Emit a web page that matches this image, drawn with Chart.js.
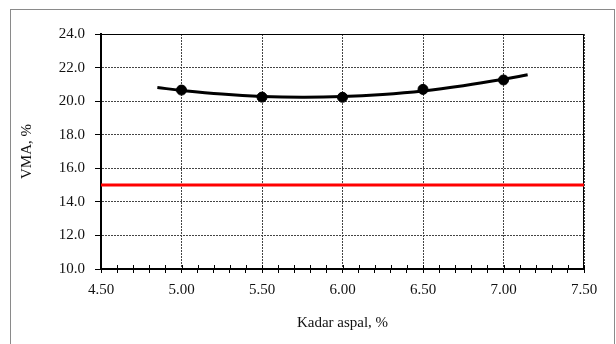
<!DOCTYPE html>
<html>
<head>
<meta charset="utf-8">
<script src="https://cdn.jsdelivr.net/npm/chart.js@4.4.0/dist/chart.umd.min.js"></script>
<style>
  html, body { margin: 0; padding: 0; background: #fff; }
  #wrap { width: 616px; height: 344px; }
</style>
</head>
<body>
<div id="wrap"><canvas id="myChart"></canvas></div>
<script>
// measured points
var kadarAspal = [5.00, 5.50, 6.00, 6.50, 7.00];
var vma = [20.66, 20.24, 20.23, 20.70, 21.26];
// trend curve
var trendX = [4.85, 5.00, 5.25, 5.50, 5.75, 6.00, 6.25, 6.50, 6.75, 7.00, 7.15];
var trendY = [20.81, 20.64, 20.42, 20.28, 20.23, 20.27, 20.40, 20.61, 20.92, 21.30, 21.57];
// VMA minimum limit
var batasX = [4.50, 7.50];
var batasY = [15.0, 15.0];

function pts(xs, ys) {
    return xs.map(function (x, i) { return { x: x, y: ys[i] }; });
}
function isMajor(v) {
    return Math.abs(v * 2 - Math.round(v * 2)) < 1e-6;
}

var serif = 'Liberation Serif';

var frame = {
    id: 'frame',
    beforeDraw: function (chart) {
        var c = chart.ctx;
        c.save();
        c.fillStyle = '#fff';
        c.fillRect(0, 0, chart.width, chart.height);
        c.strokeStyle = '#8a8a8a';
        c.lineWidth = 1;
        c.strokeRect(10.5, 9.5, 604, 345);
        c.restore();
    },
    beforeDatasetsDraw: function (chart) {
        var c = chart.ctx, a = chart.chartArea, sx = chart.scales.x;
        c.save();
        c.strokeStyle = '#000';
        c.lineWidth = 1;
        c.beginPath();
        c.moveTo(a.left, a.top + 0.5);
        c.lineTo(a.right - 0.5, a.top + 0.5);
        c.lineTo(a.right - 0.5, a.bottom);
        c.stroke();
        // upper half of the x tick marks
        c.beginPath();
        sx.ticks.forEach(function (t) {
            var px = Math.round(sx.getPixelForValue(t.value)) + 0.5;
            c.moveTo(px, a.bottom);
            c.lineTo(px, a.bottom - 4);
        });
        c.stroke();
        c.restore();
    }
};

var ctx = document.getElementById('myChart').getContext('2d');
var chart = new Chart(ctx, {
    type: 'scatter',
    data: {
        datasets: [{
            label: 'VMA',
            data: pts(kadarAspal, vma),
            backgroundColor: '#000',
            borderColor: '#000',
            pointRadius: 5,
            showLine: false,
            order: 1
        },
        {
            label: 'Trend',
            data: pts(trendX, trendY),
            borderColor: '#000',
            borderWidth: 3,
            pointRadius: 0,
            showLine: true,
            tension: 0.4,
            order: 2
        },
        {
            label: 'Batas',
            data: pts(batasX, batasY),
            borderColor: '#ff0000',
            borderWidth: 3,
            pointRadius: 0,
            showLine: true,
            order: 3
        }]
    },
    options: {
        responsive: true,
        maintainAspectRatio: false,
        animation: false,
        layout: { padding: { left: 0, right: 32, top: 34, bottom: 0 } },
        plugins: {
            legend: { display: false },
            tooltip: { enabled: false }
        },
        scales: {
            x: {
                type: 'linear',
                min: 4.5,
                max: 7.5,
                afterFit: function (s) { s.height = 75; },
                ticks: {
                    stepSize: 0.1,
                    maxTicksLimit: 100,
                    autoSkip: false,
                    maxRotation: 0,
                    padding: 8,
                    color: '#111',
                    font: { family: serif, size: 15 },
                    callback: function (v) { return isMajor(v) ? v.toFixed(2) : ''; }
                },
                grid: {
                    color: function (c) { return c.tick && isMajor(c.tick.value) ? '#444' : 'rgba(0,0,0,0)'; },
                    tickColor: '#000',
                    tickLength: 4,
                    lineWidth: 1
                },
                border: { color: '#000', width: 2, dash: [2, 1] },
                title: {
                    display: true,
                    text: 'Kadar aspal, %',
                    color: '#111',
                    font: { family: serif, size: 15 },
                    padding: { top: 0, bottom: 12 }
                }
            },
            y: {
                min: 10,
                max: 24,
                afterFit: function (s) { s.width = 101; },
                ticks: {
                    stepSize: 2,
                    padding: 10,
                    color: '#111',
                    font: { family: serif, size: 15 },
                    callback: function (v) { return v.toFixed(1); }
                },
                grid: {
                    color: '#444',
                    tickColor: '#000',
                    tickLength: 6,
                    lineWidth: 1
                },
                border: { color: '#000', width: 2, dash: [2, 1] },
                title: {
                    display: true,
                    text: 'VMA, %',
                    color: '#111',
                    font: { family: serif, size: 15 },
                    padding: { top: 18, bottom: 0 }
                }
            }
        }
    },
    plugins: [frame]
});
</script>
</body>
</html>
